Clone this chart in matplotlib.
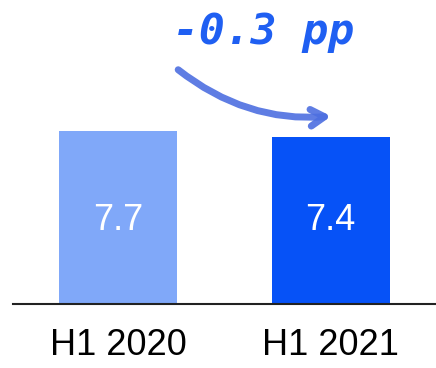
import matplotlib
matplotlib.use('Agg')
import matplotlib.pyplot as plt

periods = ['H1 2020', 'H1 2021']
values = [7.7, 7.4]
labels = ['7.7', '7.4']
colors = ['#80a8f9', '#0652f7']
change = '-0.3 pp'

plt.rcParams['font.family'] = ['Liberation Sans', 'DejaVu Sans']

fig = plt.figure(figsize=(4.36, 3.68), dpi=100)
ax = fig.add_axes([13 / 436, 64 / 368, 423 / 436, 304 / 368])

x = range(len(values))
bars = ax.bar(x, values, width=0.555, color=colors)
for b, lab in zip(bars, labels):
    ax.text(b.get_x() + b.get_width() / 2, 3.7, lab, ha='center', va='center',
            color='white', fontsize=26)

ax.set_xlim(-0.494, 1.496)
ax.set_ylim(0, 13.5)
ax.set_xticks(list(x))
ax.set_xticklabels(periods, fontsize=26)
ax.tick_params(axis='x', length=0, pad=17)
ax.set_yticks([])
for s in ['top', 'left', 'right']:
    ax.spines[s].set_visible(False)
ax.spines['bottom'].set_linewidth(1.5)
ax.spines['bottom'].set_color('#222222')

# change annotation
fig.text(264 / 436, 1 - 32 / 368, change, ha='center', va='center', color='#1f5ff2',
         fontsize=31, fontweight='bold', fontstyle='italic', family='DejaVu Sans Mono')
ax.annotate('', xy=(334 / 436, 1 - 116 / 368), xytext=(176 / 436, 1 - 68 / 368),
            xycoords='figure fraction', textcoords='figure fraction',
            arrowprops=dict(arrowstyle='->,head_length=1.0,head_width=0.6', color='#4d6fe0',
                            lw=5, alpha=0.9, connectionstyle='arc3,rad=0.2'))

fig.savefig('out.png', dpi=100)
